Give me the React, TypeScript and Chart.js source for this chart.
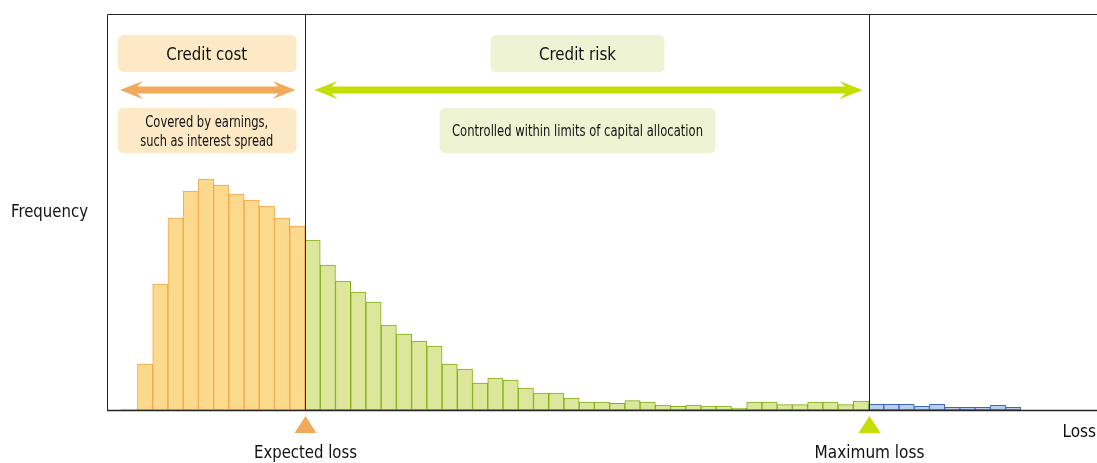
import React, { useEffect, useRef } from "react";
import { Chart, registerables } from "chart.js";

Chart.register(...registerables);

// Loss distribution histogram, split into three regions.
const creditCostBins = [1, 46, 126, 192, 219, 231, 225, 216, 210, 204, 192, 184];
const creditRiskBins = [
  170, 145, 129, 118, 108, 85, 76, 69, 64, 46, 41, 27, 32, 30, 22, 17, 17, 12, 8, 8,
  6.7, 9.3, 8, 5, 3.7, 5, 4, 4, 2, 8, 8, 5.3, 5.3, 8, 8, 5.3, 9,
];
const tailBins = [5.7, 5.7, 5.7, 3.7, 5.7, 2.7, 2.7, 2.7, 4.7, 2.7];

const leadingEmpty = 1;
const trailingEmpty = 5;
const totalBins =
  leadingEmpty + creditCostBins.length + creditRiskBins.length + tailBins.length + trailingEmpty;
const binLabels = Array.from({ length: totalBins }, (_, i) => String(i));

const yMax = 396;

const regionLabels = {
  cost: "Credit cost",
  costNote: ["Covered by earnings,", "such as interest spread"],
  risk: "Credit risk",
  riskNote: "Controlled within limits of capital allocation",
  yTitle: "Frequency",
  xTitle: "Loss",
  expected: "Expected loss",
  maximum: "Maximum loss",
};

const FONT = '"Liberation Sans Narrow", "DejaVu Sans Condensed", "Liberation Sans", sans-serif';

function place(values: number[], start: number): (number | null)[] {
  const out: (number | null)[] = new Array(totalBins).fill(null);
  values.forEach((v, i) => (out[start + i] = v));
  return out;
}

function roundRect(ctx: CanvasRenderingContext2D, x: number, y: number, w: number, h: number, r: number) {
  ctx.beginPath();
  ctx.moveTo(x + r, y);
  ctx.lineTo(x + w - r, y);
  ctx.quadraticCurveTo(x + w, y, x + w, y + r);
  ctx.lineTo(x + w, y + h - r);
  ctx.quadraticCurveTo(x + w, y + h, x + w - r, y + h);
  ctx.lineTo(x + r, y + h);
  ctx.quadraticCurveTo(x, y + h, x, y + h - r);
  ctx.lineTo(x, y + r);
  ctx.quadraticCurveTo(x, y, x + r, y);
  ctx.closePath();
}

function doubleArrow(
  ctx: CanvasRenderingContext2D,
  x1: number,
  x2: number,
  y: number,
  color: string,
  head: number,
  halfH: number,
  shaft: number
) {
  ctx.fillStyle = color;
  ctx.beginPath();
  ctx.moveTo(x1, y);
  ctx.lineTo(x1 + head, y - halfH);
  ctx.lineTo(x1 + head * 0.75, y - shaft / 2);
  ctx.lineTo(x2 - head * 0.75, y - shaft / 2);
  ctx.lineTo(x2 - head, y - halfH);
  ctx.lineTo(x2, y);
  ctx.lineTo(x2 - head, y + halfH);
  ctx.lineTo(x2 - head * 0.75, y + shaft / 2);
  ctx.lineTo(x1 + head * 0.75, y + shaft / 2);
  ctx.lineTo(x1 + head, y + halfH);
  ctx.closePath();
  ctx.fill();
}

function triangle(ctx: CanvasRenderingContext2D, cx: number, top: number, w: number, h: number, color: string) {
  ctx.fillStyle = color;
  ctx.beginPath();
  ctx.moveTo(cx, top);
  ctx.lineTo(cx + w / 2, top + h);
  ctx.lineTo(cx - w / 2, top + h);
  ctx.closePath();
  ctx.fill();
}

const annotations = {
  id: "lossAnnotations",
  afterDatasetsDraw(chart: Chart) {
    const { ctx, chartArea } = chart;
    const x = chart.scales.x;
    const { left, right, top, bottom } = chartArea;
    const half = (x.getPixelForValue(1) - x.getPixelForValue(0)) / 2;
    const expectedX = Math.round(x.getPixelForValue(leadingEmpty + creditCostBins.length) - half) + 0.5;
    const maxX =
      Math.round(x.getPixelForValue(leadingEmpty + creditCostBins.length + creditRiskBins.length) - half) + 0.5;

    ctx.save();
    // frame
    ctx.strokeStyle = "#262626";
    ctx.lineWidth = 1;
    ctx.beginPath();
    ctx.moveTo(left + 0.5, bottom);
    ctx.lineTo(left + 0.5, top + 0.5);
    ctx.lineTo(right, top + 0.5);
    ctx.moveTo(expectedX, top);
    ctx.lineTo(expectedX, bottom);
    ctx.moveTo(maxX, top);
    ctx.lineTo(maxX, bottom);
    ctx.stroke();
    ctx.lineWidth = 1.5;
    ctx.beginPath();
    ctx.moveTo(left, bottom + 0.5);
    ctx.lineTo(right, bottom + 0.5);
    ctx.stroke();

    ctx.textAlign = "center";
    ctx.textBaseline = "middle";
    const ink = "#111111";

    // credit cost region
    const costMid = (left + expectedX) / 2 + 0.5;
    ctx.fillStyle = "#fde9c6";
    roundRect(ctx, left + 11, top + 21, expectedX - left - 20, 37, 6);
    ctx.fill();
    roundRect(ctx, left + 11, top + 94, expectedX - left - 20, 45, 6);
    ctx.fill();
    doubleArrow(ctx, left + 13, expectedX - 10, top + 76, "#f1a95b", 23, 9, 7);

    ctx.fillStyle = ink;
    ctx.font = `18px ${FONT}`;
    ctx.fillText(regionLabels.cost, costMid, top + 41, 81);
    ctx.font = `15px ${FONT}`;
    ctx.fillText(regionLabels.costNote[0], costMid, top + 109, 123);
    ctx.fillText(regionLabels.costNote[1], costMid, top + 128, 133);

    // credit risk region
    const riskMid = (expectedX + maxX) / 2 - 10;
    ctx.fillStyle = "#eef4d3";
    roundRect(ctx, riskMid - 87, top + 21, 174, 37, 6);
    ctx.fill();
    roundRect(ctx, riskMid - 138, top + 94, 276, 45, 6);
    ctx.fill();
    doubleArrow(ctx, expectedX + 9, maxX - 7, top + 76, "#c4de00", 23, 9, 7);

    ctx.fillStyle = ink;
    ctx.font = `18px ${FONT}`;
    ctx.fillText(regionLabels.risk, riskMid, top + 41, 77);
    ctx.font = `15px ${FONT}`;
    ctx.fillText(regionLabels.riskNote, riskMid, top + 118, 251);

    // markers under the axis
    triangle(ctx, expectedX, bottom + 6, 22, 17, "#f1a95b");
    triangle(ctx, maxX, bottom + 6, 22, 17, "#c4de00");

    ctx.fillStyle = ink;
    ctx.font = `17px ${FONT}`;
    ctx.fillText(regionLabels.expected, expectedX, bottom + 44, 103);
    ctx.fillText(regionLabels.maximum, maxX, bottom + 44, 111);
    ctx.textAlign = "left";
    ctx.fillText(regionLabels.yTitle, 11, 213, 77);
    ctx.textAlign = "right";
    ctx.fillText(regionLabels.xTitle, right - 1, bottom + 23, 36);
    ctx.restore();
  },
};

export default function App() {
  const canvasRef = useRef<HTMLCanvasElement>(null);

  useEffect(() => {
    if (!canvasRef.current) return;
    const costStart = leadingEmpty;
    const riskStart = costStart + creditCostBins.length;
    const tailStart = riskStart + creditRiskBins.length;
    const barStyle = { borderWidth: 1, barPercentage: 1, categoryPercentage: 1, borderSkipped: false as const };
    const chart = new Chart(canvasRef.current, {
      type: "bar",
      data: {
        labels: binLabels,
        datasets: [
          {
            label: regionLabels.cost,
            data: place(creditCostBins, costStart),
            backgroundColor: "#fbd98d",
            borderColor: "#f2a64c",
            ...barStyle,
          },
          {
            label: regionLabels.risk,
            data: place(creditRiskBins, riskStart),
            backgroundColor: "#dde79c",
            borderColor: "#82ad16",
            ...barStyle,
          },
          {
            label: "Tail",
            data: place(tailBins, tailStart),
            backgroundColor: "#b8cff0",
            borderColor: "#3f66b8",
            ...barStyle,
          },
        ],
      },
      options: {
        responsive: true,
        maintainAspectRatio: false,
        animation: false,
        layout: { padding: { left: 107, top: 14, right: 0, bottom: 53 } },
        plugins: { legend: { display: false }, tooltip: { enabled: false } },
        scales: {
          x: { display: false, stacked: true, offset: true },
          y: { display: false, stacked: true, min: 0, max: yMax },
        },
      },
      plugins: [annotations],
    });
    return () => chart.destroy();
  }, []);

  return (
    <div style={{ position: "absolute", left: 0, top: 0, width: 1097, height: 463, background: "#fff" }}>
      <canvas ref={canvasRef} />
    </div>
  );
}
